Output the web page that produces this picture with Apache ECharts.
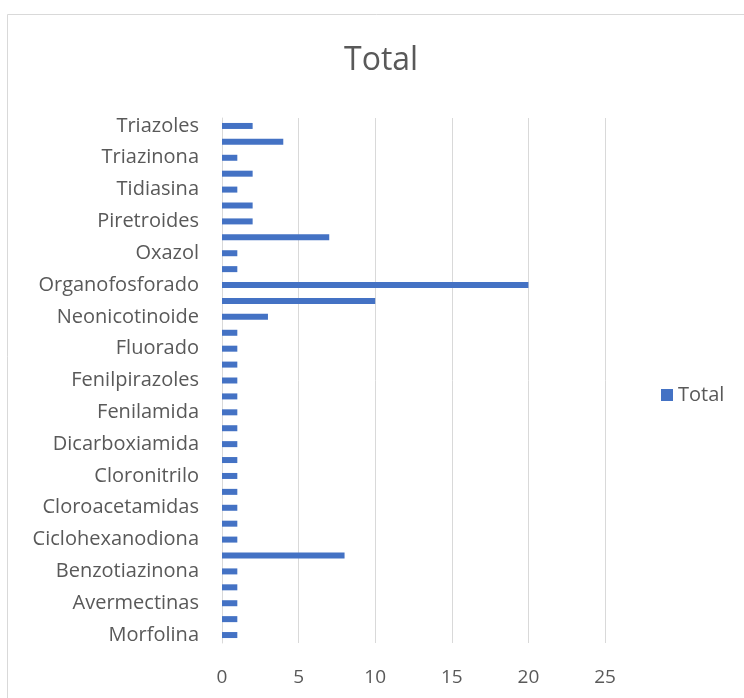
<!DOCTYPE html>
<html>
<head>
<meta charset="utf-8">
<script src="https://cdn.jsdelivr.net/npm/echarts@6/dist/echarts.min.js"></script>
<style>
  html, body { margin: 0; padding: 0; background: #fff; }
  #chart { width: 744px; height: 698px; }
</style>
</head>
<body>
<div id="chart"></div>
<script>
// Pesticide families (bottom to top) and their totals
const categories = [
  'Morfolina', 'Anilinopirimidina', 'Avermectinas', 'Benzimidazol',
  'Benzotiazinona', 'Carbamato', 'Ciclohexanodiona', 'Cinamida',
  'Cloroacetamidas', 'Clorofenoxi', 'Cloronitrilo', 'Cumarina',
  'Dicarboxiamida', 'Ditiocarbamato', 'Fenilamida', 'Fenilcarbamato',
  'Fenilpirazoles', 'Fenoxi', 'Fluorado', 'Imidazolinona',
  'Neonicotinoide', 'Organoclorado', 'Organofosforado', 'Oxadiazina',
  'Oxazol', 'Pirazol', 'Piretroides', 'Sulfonilurea',
  'Tidiasina', 'Triazina', 'Triazinona', 'Triazol', 'Triazoles'
];
const totals = [
  1, 1, 1, 1,
  1, 8, 1, 1,
  1, 1, 1, 1,
  1, 1, 1, 1,
  1, 1, 1, 1,
  3, 10, 20, 1,
  1, 7, 2, 2,
  1, 2, 1, 4, 2
];
const valueTicks = { min: 0, max: 25, step: 5 };

const textColor = '#595959';
const font = '"Open Sans", "Noto Sans", sans-serif';

const chart = echarts.init(document.getElementById('chart'), null, { renderer: 'canvas' });
chart.setOption({
  animation: false,
  backgroundColor: '#fff',
  title: {
    text: 'Total',
    left: 339,
    top: 40,
    textStyle: { fontFamily: font, fontSize: 32, fontWeight: 'normal', color: textColor }
  },
  graphic: [{
    type: 'rect',
    shape: { x: 7.5, y: 14.5, width: 760, height: 700 },
    style: { fill: 'none', stroke: '#d9d9d9', lineWidth: 1 },
    silent: true
  }],
  legend: {
    orient: 'vertical',
    left: 656,
    top: 380,
    itemWidth: 12,
    itemHeight: 12,
    itemGap: 6,
    icon: 'rect',
    textStyle: { fontFamily: font, fontSize: 20, color: textColor },
    data: ['Total']
  },
  grid: { left: 222, right: 139, top: 118, bottom: 55, containLabel: false },
  xAxis: {
    type: 'value',
    min: valueTicks.min,
    max: valueTicks.max,
    interval: valueTicks.step,
    axisLine: { show: false },
    axisTick: { show: false },
    splitLine: { lineStyle: { color: '#d9d9d9', width: 1 } },
    axisLabel: { fontFamily: font, fontSize: 19, color: textColor, margin: 25 }
  },
  yAxis: {
    type: 'category',
    data: categories,
    axisLine: { show: true, lineStyle: { color: '#d9d9d9', width: 1 } },
    axisTick: { show: false },
    axisLabel: { interval: 1, fontFamily: font, fontSize: 20, color: textColor, margin: 23 }
  },
  series: [{
    name: 'Total',
    type: 'bar',
    data: totals,
    barWidth: 6,
    itemStyle: { color: '#4472c4' }
  }]
});
</script>
</body>
</html>
